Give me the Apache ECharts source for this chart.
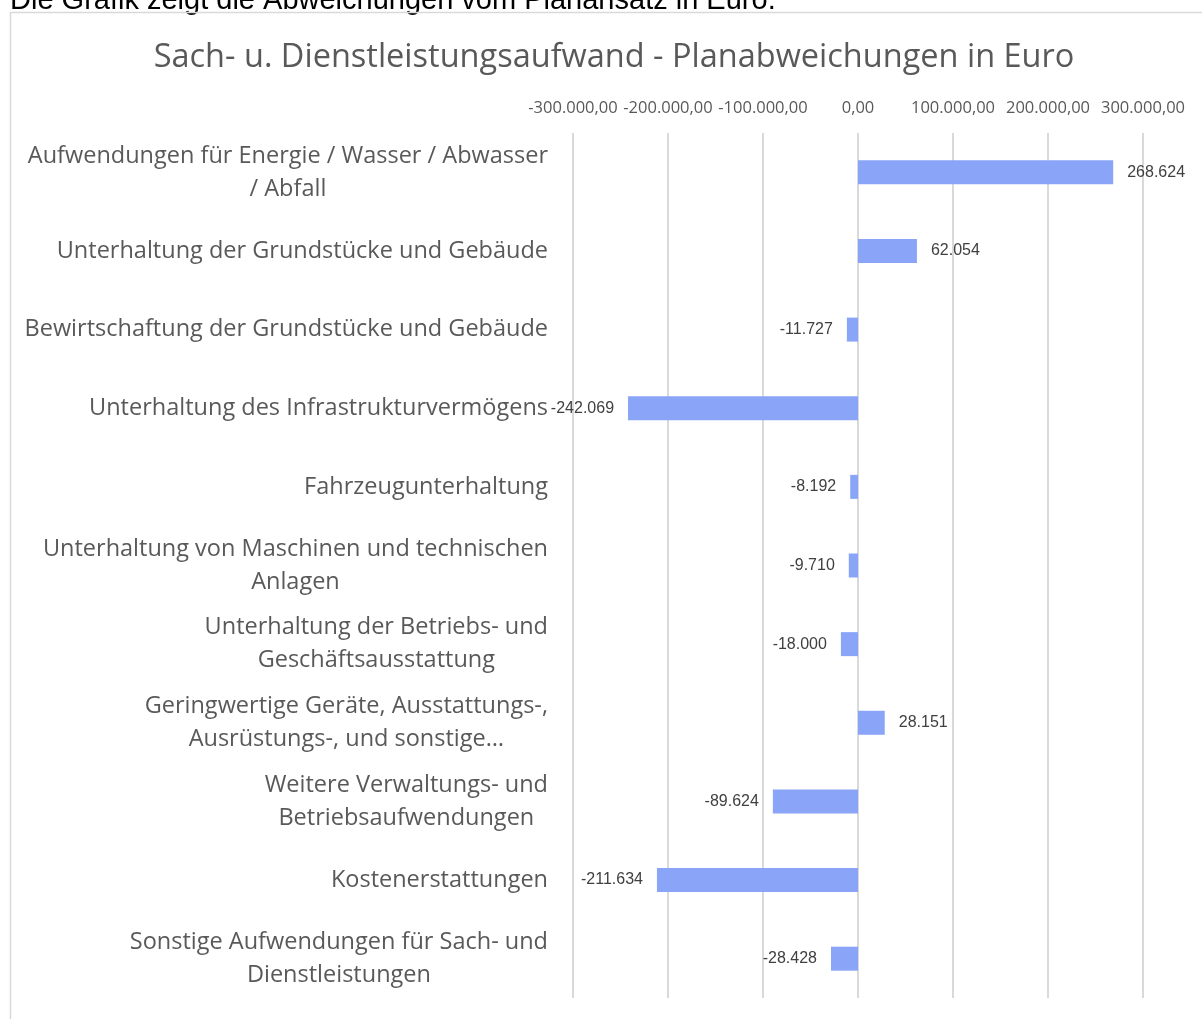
<!DOCTYPE html>
<html>
<head>
<meta charset="utf-8">
<script src="https://cdn.jsdelivr.net/npm/echarts@6/dist/echarts.min.js"></script>
<style>
  html, body { margin: 0; padding: 0; background: #fff; }
  #chart { width: 1202px; height: 1019px; }
</style>
</head>
<body>
<div id="chart"></div>
<script>
const categories = [
  'Aufwendungen für Energie / Wasser / Abwasser\n/ Abfall',
  'Unterhaltung der Grundstücke und Gebäude',
  'Bewirtschaftung der Grundstücke und Gebäude',
  'Unterhaltung des Infrastrukturvermögens',
  'Fahrzeugunterhaltung',
  'Unterhaltung von Maschinen und technischen\nAnlagen',
  'Unterhaltung der Betriebs- und\nGeschäftsausstattung',
  'Geringwertige Geräte, Ausstattungs-,\nAusrüstungs-, und sonstige…',
  'Weitere Verwaltungs- und\nBetriebsaufwendungen',
  'Kostenerstattungen',
  'Sonstige Aufwendungen für Sach- und\nDienstleistungen'
];
const deviations = [268624, 62054, -11727, -242069, -8192, -9710, -18000, 28151, -89624, -211634, -28428];
const axisTicks = [-300000, -200000, -100000, 0, 100000, 200000, 300000];

function de(v, dec) {
  return v.toLocaleString('de-DE', { minimumFractionDigits: dec, maximumFractionDigits: dec });
}

const chart = echarts.init(document.getElementById('chart'));
const option = {
  animation: false,
  graphic: [
    {
      type: 'text', left: 10, top: -14,
      style: { text: 'Die Grafik zeigt die Abweichungen vom Planansatz in Euro.', fontFamily: 'Liberation Sans, Arial', fontSize: 29, fill: '#000' }
    },
    {
      type: 'rect', shape: { x: 10.5, y: 12.5, width: 1300, height: 1100 },
      style: { fill: 'none', stroke: '#d9d9d9', lineWidth: 1.5 }, silent: true
    }
  ],
  title: {
    text: 'Sach- u. Dienstleistungsaufwand - Planabweichungen in Euro',
    left: 609, top: 36, textAlign: 'center',
    textStyle: { fontFamily: 'Open Sans', fontWeight: 'normal', fontSize: 32.5, color: '#595959' }
  },
  grid: { left: 573, right: 59, top: 133, bottom: 21, containLabel: false },
  xAxis: {
    type: 'value', position: 'top',
    min: axisTicks[0], max: axisTicks[axisTicks.length - 1], interval: 100000,
    axisLine: { show: false }, axisTick: { show: false },
    axisLabel: { formatter: v => de(v, 2), color: '#595959', fontFamily: 'Open Sans', fontSize: 16.5, margin: 16 },
    splitLine: { lineStyle: { color: '#d9d9d9', width: 2 } }
  },
  yAxis: {
    type: 'category', data: categories, inverse: true,
    axisLine: { show: false }, axisTick: { show: false },
    axisLabel: {
      margin: 25, align: 'right',
      formatter: v => v.split('\n').map(l => '{c|' + l + '}').join('\n'),
      rich: {
        c: { align: 'center', color: '#595959', fontFamily: 'Open Sans', fontSize: 23.5, lineHeight: 33 }
      }
    }
  },
  series: [{
    type: 'bar', barWidth: 24,
    itemStyle: { color: '#8aa5f8' },
    data: deviations.map(v => ({
      value: v,
      label: { position: v >= 0 ? 'right' : 'left' }
    })),
    label: {
      show: true, distance: 14,
      formatter: p => de(p.value, 0),
      color: '#404040', fontFamily: 'Liberation Sans, Arial', fontSize: 16
    }
  }]
};
chart.setOption(option);
</script>
</body>
</html>
